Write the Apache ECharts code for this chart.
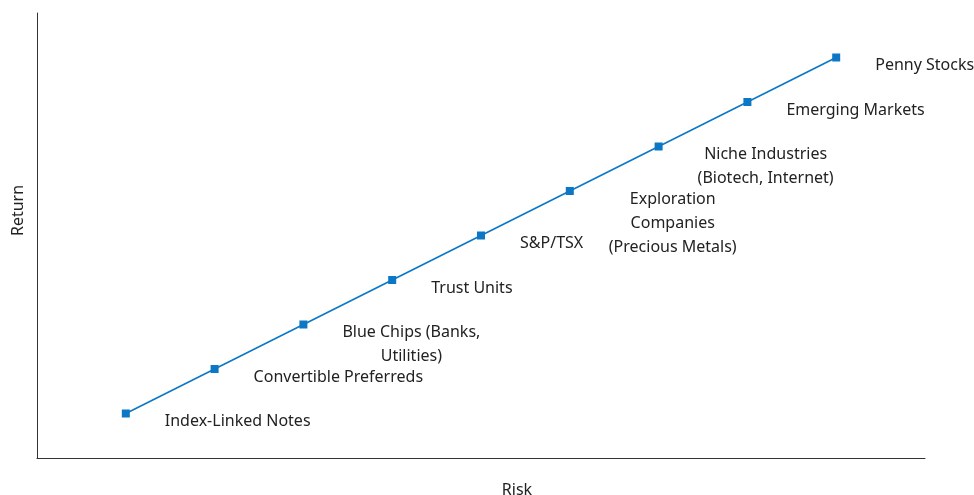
<!DOCTYPE html>
<html>
<head>
<meta charset="utf-8">
<script src="https://cdn.jsdelivr.net/npm/echarts@6/dist/echarts.min.js"></script>
<style>
    html, body { margin: 0; padding: 0; background: #fff; }
    #chart { width: 974px; height: 495px; }
</style>
</head>
<body>
<div id="chart"></div>
<script>
// investment categories, from lowest to highest risk/return
const categories = [
    'Index-Linked Notes',
    'Convertible Preferreds',
    'Blue Chips (Banks,\nUtilities)',
    'Trust Units',
    'S&P/TSX',
    'Exploration\nCompanies\n(Precious Metals)',
    'Niche Industries\n(Biotech, Internet)',
    'Emerging Markets',
    'Penny Stocks'
];
const riskValues = [1, 2, 3, 4, 5, 6, 7, 8, 9];
const returnValues = [1, 2, 3, 4, 5, 6, 7, 8, 9];

const FONT = '"Noto Sans", "Open Sans", sans-serif';
const FONT_SIZE = 16;

// width of the longest line, used to center the label block to the right of the point
const ctx = document.createElement('canvas').getContext('2d');
ctx.font = FONT_SIZE + 'px ' + FONT;
function blockWidth(text) {
    return Math.max.apply(null, text.split('\n').map(function (l) {
        return ctx.measureText(l).width;
    }));
}

const seriesData = categories.map(function (name, i) {
    const w = blockWidth(name);
    return {
        name: name,
        value: [riskValues[i], returnValues[i]],
        label: {
            position: [4 + 39 + w / 2, 0]
        }
    };
});

const chart = echarts.init(document.getElementById('chart'));
chart.setOption({
    backgroundColor: '#fff',
    animation: false,
    grid: {
        left: 37,
        right: 49,
        top: 13,
        bottom: 37,
        containLabel: false,
        outerBoundsMode: 'none'
    },
    xAxis: {
        type: 'value',
        min: 0,
        max: 10,
        name: 'Risk',
        nameLocation: 'middle',
        nameGap: 24,
        nameTextStyle: {
            fontFamily: FONT,
            fontSize: 16,
            color: '#222',
            padding: [0, 0, 0, 72]
        },
        axisLine: { onZero: false, lineStyle: { color: '#333', width: 1 } },
        axisTick: { show: false },
        axisLabel: { show: false },
        splitLine: { show: false }
    },
    yAxis: {
        type: 'value',
        min: 0,
        max: 10,
        name: 'Return',
        nameLocation: 'middle',
        nameGap: 11,
        nameTextStyle: {
            fontFamily: FONT,
            fontSize: 16,
            color: '#222',
            padding: [0, 0, 0, 50]
        },
        axisLine: { onZero: false, lineStyle: { color: '#333', width: 1 } },
        axisTick: { show: false },
        axisLabel: { show: false },
        splitLine: { show: false }
    },
    series: [
        {
            type: 'line',
            data: seriesData,
            symbol: 'rect',
            symbolSize: 8,
            showSymbol: true,
            itemStyle: { color: '#0b77c5' },
            lineStyle: { color: '#0b77c5', width: 1.6 },
            label: {
                show: true,
                formatter: function (p) { return p.name; },
                align: 'center',
                verticalAlign: 'top',
                fontFamily: FONT,
                fontSize: FONT_SIZE,
                lineHeight: 24,
                color: '#222'
            }
        }
    ]
});
</script>
</body>
</html>
